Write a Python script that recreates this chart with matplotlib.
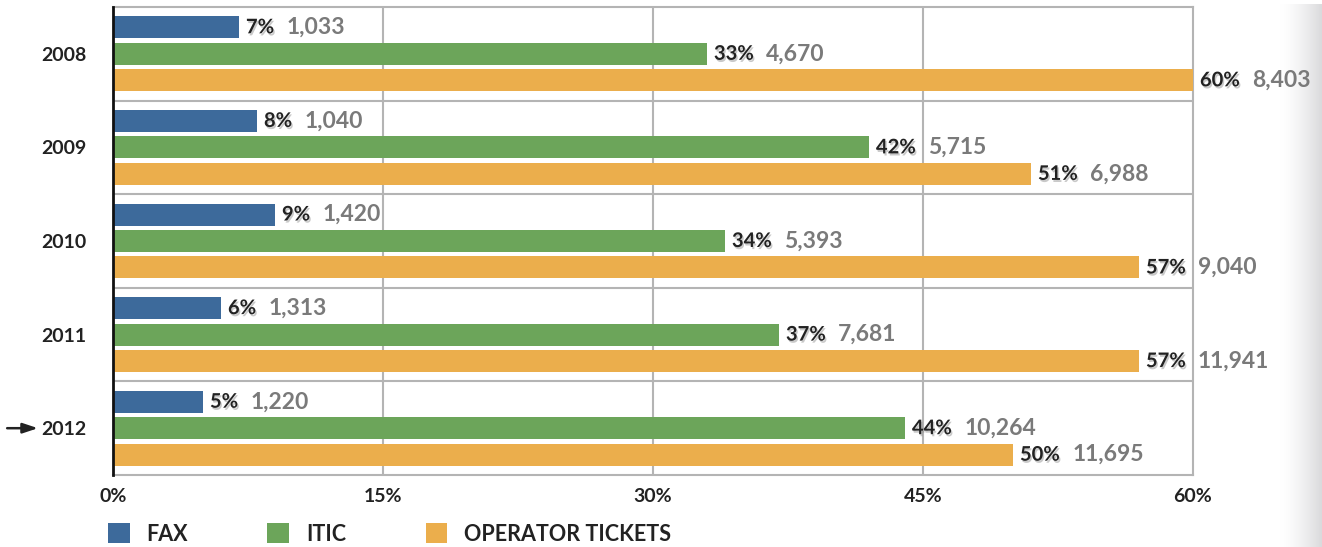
import numpy as np
import matplotlib.pyplot as plt
import matplotlib.patheffects as pe
from matplotlib.patches import Patch

# data
years = ['2008', '2009', '2010', '2011', '2012']
series = ['FAX', 'ITIC', 'OPERATOR TICKETS']
fax_pct = [7, 8, 9, 6, 5]
itic_pct = [33, 42, 34, 37, 44]
op_pct = [60, 51, 57, 57, 50]
fax_cnt = [1033, 1040, 1420, 1313, 1220]
itic_cnt = [4670, 5715, 5393, 7681, 10264]
op_cnt = [8403, 6988, 9040, 11941, 11695]
xticks = [0, 15, 30, 45, 60]

colors = ['#3d6a9b', '#6ca55a', '#ebae4c']
grid_c = '#b4b4b4'

plt.rcParams['font.family'] = ['Lato', 'DejaVu Sans']

fig = plt.figure(figsize=(13.22, 5.47), dpi=100)

# soft grey shade on the right edge
shade = fig.add_axes([1280 / 1322, 0, 42 / 1322, 543 / 547], zorder=-5)
grad = np.linspace(0, 1, 100) ** 1.5
shade.imshow(grad[None, :], aspect='auto', cmap=plt.matplotlib.colors.LinearSegmentedColormap.from_list(
    'g', ['#ffffff', '#dadadc']), extent=[0, 1, 0, 1])
shade.axis('off')

ax = fig.add_axes([113 / 1322, 72 / 547, 1080 / 1322, 468 / 547])

y = np.arange(len(years))
h = 0.235
off = 0.283
pct_sets = [fax_pct, itic_pct, op_pct]
cnt_sets = [fax_cnt, itic_cnt, op_cnt]
for k in range(3):
    yy = y + (k - 1) * off
    bars = ax.barh(yy, pct_sets[k], height=h, color=colors[k], zorder=3)
    for b, p, c in zip(bars, pct_sets[k], cnt_sets[k]):
        t = ax.annotate(f'{p}%', xy=(b.get_width(), b.get_y() + h / 2),
                        xytext=(5, 0), textcoords='offset points',
                        va='center', ha='left', fontsize=14.5, fontweight='bold',
                        color='#222222', annotation_clip=False, zorder=5,
                        path_effects=[pe.withSimplePatchShadow(offset=(1, -1.5),
                                                               shadow_rgbFace='#888888',
                                                               alpha=0.45)])
        ax.annotate(f'{c:,}', xy=(1, 0.5), xycoords=t, xytext=(9, 0),
                    textcoords='offset points', va='center', ha='left',
                    fontsize=16.5, fontweight='bold', color='#7a7a7a',
                    annotation_clip=False, zorder=5)

ax.set_xlim(0, 60)
ax.set_ylim(len(years) - 0.5, -0.5)
ax.set_xticks(xticks)
ax.set_xticklabels([f'{v}%' for v in xticks], fontsize=14, fontweight='bold', color='#222222')
ax.set_yticks(y)
ax.set_yticklabels(years, fontsize=14, fontweight='bold', color='#222222')
ax.tick_params(length=0)
ax.tick_params(axis='x', pad=9)
ax.tick_params(axis='y', pad=19)

for xv in xticks[1:-1]:
    ax.axvline(xv, color=grid_c, lw=1.5, zorder=1)
for yv in np.arange(0.5, len(years) - 0.5):
    ax.axhline(yv, color=grid_c, lw=1.5, zorder=1)
for s in ['top', 'right', 'bottom']:
    ax.spines[s].set_color(grid_c)
    ax.spines[s].set_linewidth(1.5)
ax.spines['left'].set_color('#111111')
ax.spines['left'].set_linewidth(2)
ax.spines['left'].set_zorder(4)

# arrow marking the current year
ax.annotate('', xy=(-0.0695, len(years) - 1), xycoords=('axes fraction', 'data'),
            xytext=(-0.098, len(years) - 1), textcoords=('axes fraction', 'data'),
            arrowprops=dict(arrowstyle='-|>,head_length=0.9,head_width=0.3',
                            color='#222222', lw=1.8, shrinkA=0, shrinkB=0),
            annotation_clip=False)

handles = [Patch(facecolor=c) for c in colors]
fig.legend(handles, series, loc='center left', bbox_to_anchor=(108 / 1322, 1 - 534 / 547),
           ncol=3, frameon=False, borderpad=0, borderaxespad=0,
           handlelength=1.0, handleheight=1.0, handletextpad=0.78, columnspacing=3.7,
           prop=dict(size=15.5, weight='bold'), labelcolor='#222222')

fig.savefig('out.png', dpi=100)
